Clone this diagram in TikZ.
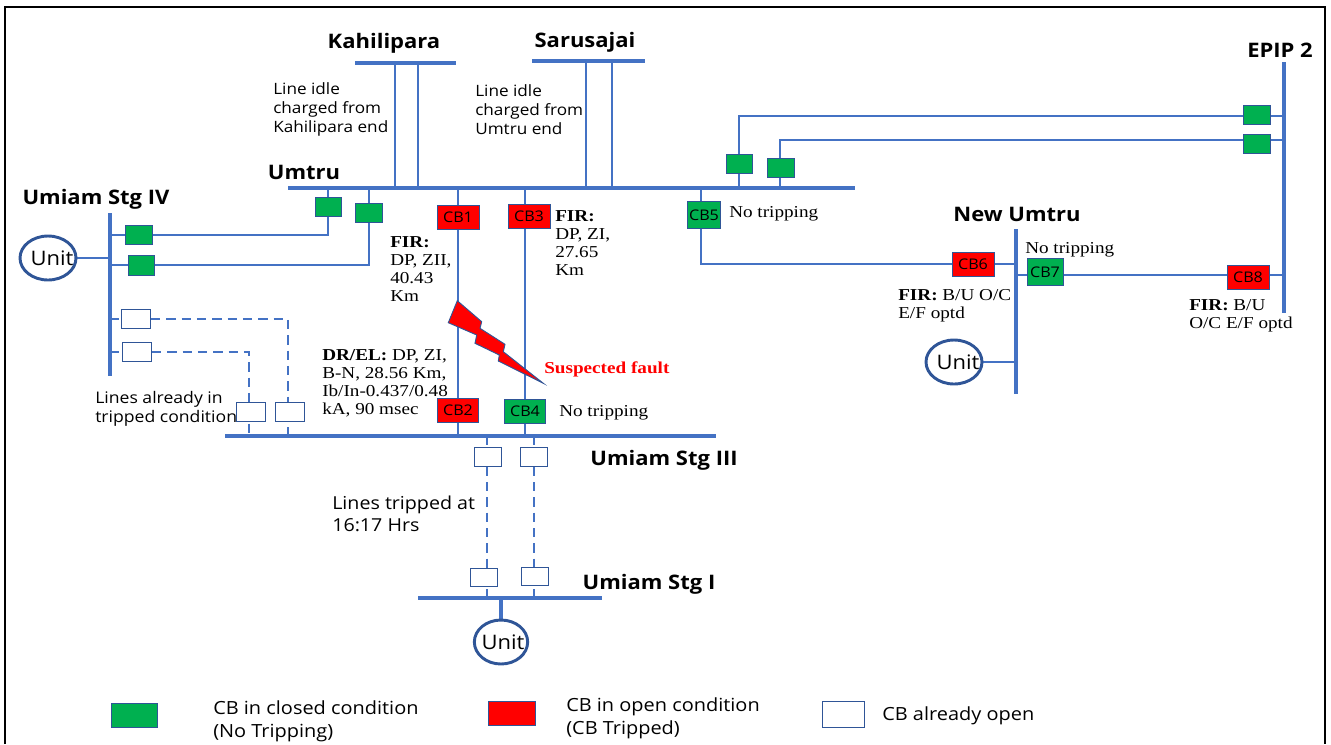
\documentclass[tikz,border=0pt]{standalone}
\usepackage{fontspec}
\setmainfont[FakeStretch=1.15]{Liberation Serif}
\newfontfamily\opensans[FakeStretch=1.1]{Open Sans}
\usetikzlibrary{shapes.geometric,backgrounds}
\definecolor{busblue}{HTML}{4472C4}
\definecolor{cbgreen}{HTML}{00B050}
\definecolor{cbred}{HTML}{FF0000}
\definecolor{edgeblue}{HTML}{2F5597}
\tikzset{
 bus/.style={draw=busblue,line width=3.2pt,line cap=butt},
 feeder/.style={draw=busblue,line width=1.7pt},
 dashfeeder/.style={draw=busblue,line width=1.7pt,dash pattern=on 7pt off 4.5pt},
 cb/.style={draw=edgeblue,line width=.7pt,inner sep=0pt,minimum width=#1*.75pt,font=\opensans\fontsize{11}{12}\selectfont},
 closedcb/.style={cb=#1,fill=cbgreen},
 opencb/.style={cb=#1,fill=cbred},
 emptycb/.style={cb=#1,fill=white},
 station/.style={inner sep=0pt,yshift=-1.1pt,font=\opensans\bfseries\fontsize{15}{18}\selectfont},
 note/.style={inner sep=0pt,anchor=west,align=left,font=\opensans\fontsize{11.7}{14.2}\selectfont},
 relay/.style={inner sep=0pt,anchor=west,align=left,font=\fontsize{12.5}{13.6}\selectfont},
 legend/.style={inner sep=0pt,anchor=west,align=left,font=\opensans\fontsize{13.6}{17}\selectfont},
 unit/.style={draw=edgeblue,line width=2.2pt,ellipse,inner sep=0pt,minimum width=42pt,minimum height=33pt,font=\opensans\fontsize{15}{16}\selectfont},
}
\begin{document}
\begin{tikzpicture}[x=.75pt,y=-.75pt]
\useasboundingbox (0,0) rectangle (1331,744);
\draw[line width=1.2pt] (5,744) -- (5,7) -- (1325,7) -- (1325,744);
% bus end points
\coordinate (kahL) at (355,63); \coordinate (kahR) at (456,63);
\coordinate (sarL) at (532,61); \coordinate (sarR) at (645,61);
\coordinate (umtL) at (288,188); \coordinate (umtR) at (855,188);
\coordinate (st4T) at (110,213); \coordinate (st4B) at (110,376);
\coordinate (st3L) at (225,436); \coordinate (st3R) at (716,436);
\coordinate (st1L) at (418,598); \coordinate (st1R) at (602,598);
\coordinate (newT) at (1016,229); \coordinate (newB) at (1016,394);
\coordinate (epiT) at (1284,62); \coordinate (epiB) at (1284,313);
% breakers
\node[closedcb=26,minimum height=14.5pt] (g1) at (328,207) {};
\node[closedcb=27,minimum height=14.5pt] (g2) at (369,213) {};
\node[closedcb=27,minimum height=14pt] (g3) at (139,235) {};
\node[closedcb=26,minimum height=15pt] (g4) at (141,265) {};
\node[closedcb=26,minimum height=14.5pt] (g5) at (739,164) {};
\node[closedcb=27,minimum height=14.5pt] (g6) at (781,168) {};
\node[closedcb=27,minimum height=14.5pt] (g7) at (1257,115) {};
\node[closedcb=27,minimum height=14.5pt] (g8) at (1257,144) {};
\node[emptycb=29,minimum height=14pt] (w1) at (136,319) {};
\node[emptycb=29,minimum height=14pt] (w2) at (137,352) {};
\node[emptycb=29,minimum height=14pt] (w3) at (251,412) {};
\node[emptycb=29,minimum height=14pt] (w4) at (290,412) {};
\node[emptycb=27,minimum height=14.5pt] (w5) at (488,457) {};
\node[emptycb=27,minimum height=14pt] (w6) at (534,457) {};
\node[emptycb=27,minimum height=13.5pt] (w7) at (484,577) {};
\node[emptycb=27,minimum height=13.5pt] (w8) at (535,576) {};
\node[opencb=42,minimum height=18pt] (cb1) at (458,217) {CB1};
\node[opencb=42,minimum height=18pt] (cb3) at (529,216) {CB3};
\node[opencb=41,minimum height=18pt] (cb2) at (458,410) {CB2};
\node[closedcb=41,minimum height=18pt] (cb4) at (525,411) {CB4};
\node[closedcb=33,minimum height=20pt] (cb5) at (704,215) {CB5};
\node[opencb=42,minimum height=18pt] (cb6) at (973,264) {CB6};
\node[closedcb=36,minimum height=20pt] (cb7) at (1045,272) {CB7};
\node[opencb=42,minimum height=18pt] (cb8) at (1248,277) {CB8};
% units
\node[unit] (u1) at (48,258) {\makebox[0pt]{\hspace*{6pt}Unit}};
\node[unit] (u2) at (954,362) {\makebox[0pt]{\hspace*{6pt}Unit}};
\node[unit,minimum width=40pt] (u3) at (501,642) {\makebox[0pt]{\hspace*{3pt}Unit}};
% junctions
\coordinate (k1) at (395,63); \coordinate (k2) at (418,63);
\coordinate (s1) at (586,61); \coordinate (s2) at (612,61);
\coordinate (j1) at (g1 |- g3); \coordinate (j2) at (g2 |- g4);
\coordinate (j5) at (739,116); \coordinate (j6) at (780,140);
\coordinate (j7) at (288,318); \coordinate (j8) at (249,352);
\coordinate (d1) at (487,436); \coordinate (d2) at (534,436);
\coordinate (a1) at (458,188); \coordinate (a2) at (525,188);
\coordinate (a3) at (701,188); \coordinate (a4) at (701,264);
\coordinate (a5) at (1016,275);
\begin{pgfonlayer}{background}
\draw[feeder] (k1) -- (k1 |- umtL);
\draw[feeder] (k2) -- (k2 |- umtL);
\draw[feeder] (s1) -- (s1 |- umtL);
\draw[feeder] (s2) -- (s2 |- umtL);
\draw[feeder] (g1 |- umtL) -- (j1) -- (st4T |- j1);
\draw[feeder] (g2 |- umtL) -- (j2) -- (st4T |- j2);
\draw[feeder] (j5 |- umtL) -- (j5) -- (epiT |- j5);
\draw[feeder] (j6 |- umtL) -- (j6) -- (epiT |- j6);
\draw[dashfeeder] (st4T |- w1) -- (w1) -- (w1 -| j7) -- (j7 |- st3L);
\draw[dashfeeder] (st4T |- w2) -- (w2) -- (w2 -| j8) -- (j8 |- st3L);
\draw[dashfeeder] (d1) -- (d1 |- st1L);
\draw[dashfeeder] (d2) -- (d2 |- st1L);
\draw[feeder] (a1) -- (a1 |- st3L);
\draw[feeder] (a2) -- (a2 |- st3L);
\draw[feeder] (a3) -- (a4) -- (newT |- a4);
\draw[feeder] (a5) -- (epiT |- a5);
\draw[bus] (kahL) -- (kahR);
\draw[bus] (sarL) -- (sarR);
\draw[bus] (umtL) -- (umtR);
\draw[bus] (st4T) -- (st4B);
\draw[bus] (st3L) -- (st3R);
\draw[bus] (st1L) -- (st1R);
\draw[bus] (newT) -- (newB);
\draw[bus] (epiT) -- (epiB);
\draw[feeder,line width=2.2pt] (u1) -- (st4T |- u1);
\draw[feeder,line width=2.2pt] (u2) -- (newT |- u2);
\draw[bus,line width=2.4pt] (u3) -- (u3 |- st1L);
\end{pgfonlayer}
% fault
\draw[fill=cbred,draw=edgeblue,line width=.7pt] (457.3,300.7) -- (481.7,321.7) -- (480,328.3) -- (505,344.3) -- (503.3,351.7) -- (543.3,383.3) -- (498.3,361) -- (499.3,355) -- (475,343.3) -- (476.7,335) -- (448.3,322.7) -- cycle;
% stations
\node[station] (nKah) at (384,42) {Kahilipara};
\node[station] (nSar) at (585,41) {Sarusajai};
\node[station] (nUmt) at (304,171) {Umtru};
\node[station] (nSt4) at (96,198) {Umiam Stg IV};
\node[station] (nNew) at (1017,213) {New Umtru};
\node[station] (nEpi) at (1280,49) {EPIP 2};
\node[station] (nSt3) at (664,459) {Umiam Stg III};
\node[station] (nSt1) at (649,583) {Umiam Stg I};
% notes
\node[note] (n1) at (273,109.5) {Line idle\\charged from\\Kahilipara end};
\node[note] (n2) at (475,110) {Line idle\\charged from\\Umtru end};
\node[note,font=\opensans\fontsize{12}{14.2}\selectfont] (n3) at (95,409) {Lines already in\\tripped condition};
\node[note,font=\opensans\fontsize{13.4}{16.5}\selectfont] (n4) at (332,514) {Lines tripped at\\16:17 Hrs};
\node[relay] (r1) at (390,269) {\textbf{FIR:}\\DP, ZII,\\40.43\\Km};
\node[relay] (r2) at (555,243) {\textbf{FIR:}\\DP, ZI,\\27.65\\Km};
\node[relay] (r3) at (322,383) {\textbf{DR/EL:} DP, ZI,\\B-N, 28.56 Km,\\Ib/In-0.437/0.48\\kA, 90 msec};
\node[relay,text=cbred,font=\bfseries\fontsize{12.5}{13.6}\selectfont] (r4) at (544,369.5) {Suspected fault};
\node[relay] (r5) at (559,413) {No tripping};
\node[relay] (r6) at (729,214) {No tripping};
\node[relay] (r7) at (1025,250) {No tripping};
\node[relay] (r8) at (898,306) {\textbf{FIR:} B/U O/C\\E/F optd};
\node[relay] (r9) at (1189,316) {\textbf{FIR:} B/U\\O/C E/F optd};
% legend
\node[closedcb=46,minimum height=17.5pt] (lg) at (134,715.5) {};
\node[opencb=47,minimum height=17.5pt] (lr) at (511.5,713.5) {};
\node[emptycb=42,minimum height=19pt] (lw) at (843,714.5) {};
\node[legend] (lt1) at (213,721) {CB in closed condition\\(No Tripping)};
\node[legend] (lt2) at (566,718) {CB in open condition\\(CB Tripped)};
\node[legend] (lt3) at (882,715.5) {CB already open};
\end{tikzpicture}
\end{document}
